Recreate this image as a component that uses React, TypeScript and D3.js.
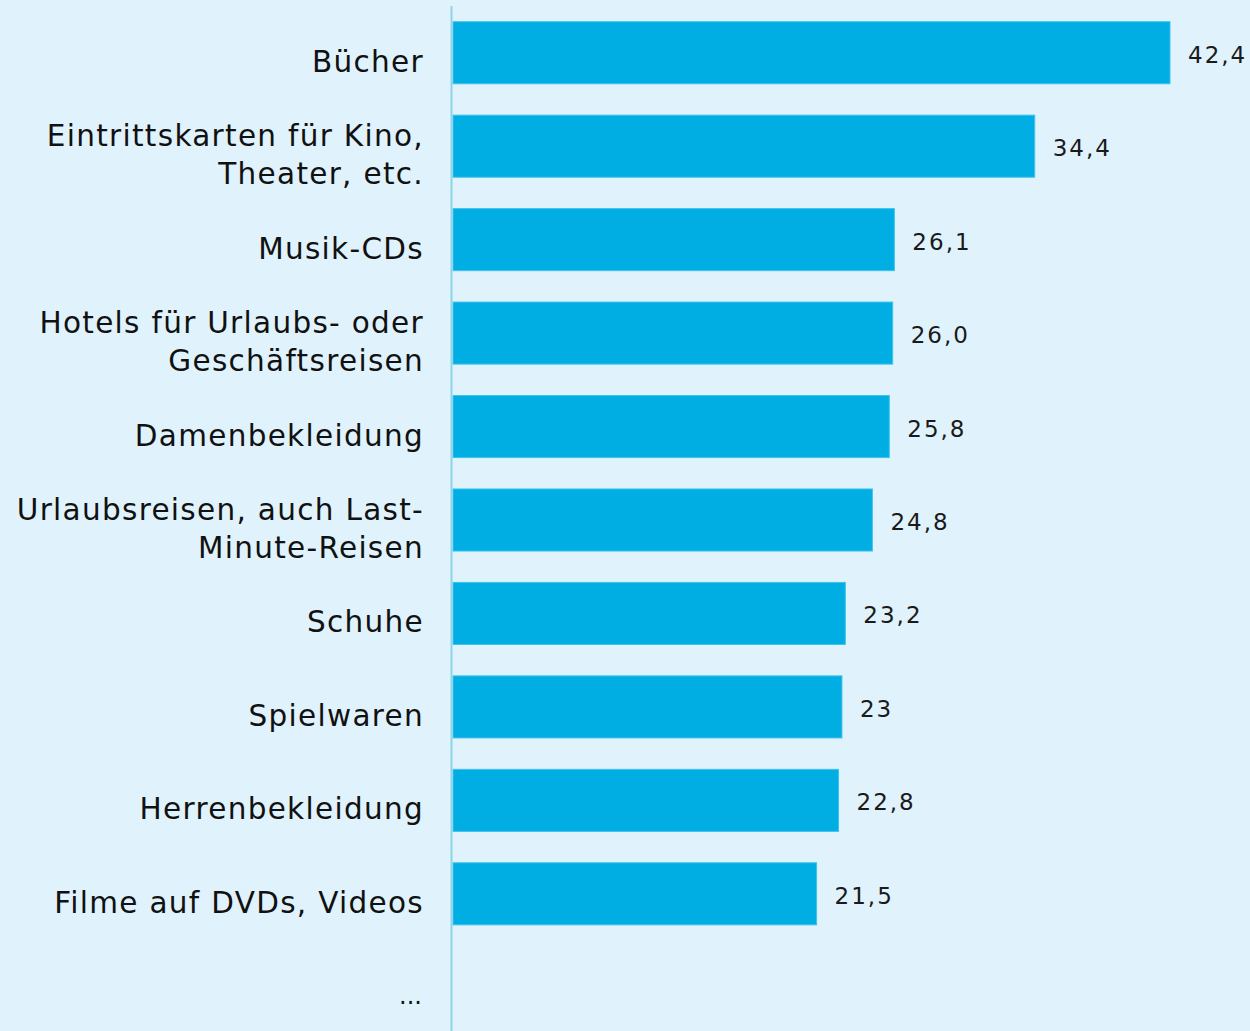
import React from "react";
import * as d3 from "d3";

// categories, label lines (for wrapping) and values
const categories = [
  "Bücher",
  "Eintrittskarten für Kino, Theater, etc.",
  "Musik-CDs",
  "Hotels für Urlaubs- oder Geschäftsreisen",
  "Damenbekleidung",
  "Urlaubsreisen, auch Last-Minute-Reisen",
  "Schuhe",
  "Spielwaren",
  "Herrenbekleidung",
  "Filme auf DVDs, Videos",
  "...",
];
const labelLines = [
  ["Bücher"],
  ["Eintrittskarten für Kino,", "Theater, etc."],
  ["Musik-CDs"],
  ["Hotels für Urlaubs- oder", "Geschäftsreisen"],
  ["Damenbekleidung"],
  ["Urlaubsreisen, auch Last-", "Minute-Reisen"],
  ["Schuhe"],
  ["Spielwaren"],
  ["Herrenbekleidung"],
  ["Filme auf DVDs, Videos"],
  ["..."],
];
const values: (number | null)[] = [42.4, 34.4, 26.1, 26.0, 25.8, 24.8, 23.2, 23, 22.8, 21.5, null];
const valueLabels = ["42,4", "34,4", "26,1", "26,0", "25,8", "24,8", "23,2", "23", "22,8", "21,5", ""];

const W = 1250;
const H = 1031;
const font = "'DejaVu Sans', Verdana, sans-serif";

export default function App() {
  const x0 = 453;
  const xScale = d3.scaleLinear().domain([0, 42.4]).range([x0, 1170]);
  const yScale = d3
    .scaleBand<string>()
    .domain(categories)
    .range([6, 1034])
    .paddingInner(0.336)
    .paddingOuter(0.168);

  return (
    <svg
      width={W}
      height={H}
      style={{ position: "absolute", left: 0, top: 0, background: "#e0f3fd" }}
    >
      <rect x={0} y={0} width={W} height={H} fill="#e0f3fd" />
      {categories.map((c, i) => {
        const v = values[i];
        const y = yScale(c)!;
        const bh = yScale.bandwidth();
        const cy = y + bh / 2;
        const lines = labelLines[i];
        const lh = 38;
        const isDots = c === "...";
        const firstBase = cy + 19 - ((lines.length - 1) * lh) / 2 + (isDots ? -2 : 0);
        return (
          <g key={c}>
            {v !== null && (
              <rect
                x={x0}
                y={y}
                width={xScale(v) - x0}
                height={bh}
                fill="#00aee3"
                stroke="#3ec2ec"
                strokeWidth={1}
              />
            )}
            {v !== null && (
              <text
                x={xScale(v) + 18}
                y={cy + 10}
                fontFamily={font}
                fontSize={23}
                letterSpacing={2}
                fill="#1a1a1a"
              >
                {valueLabels[i]}
              </text>
            )}
            <text
              x={424}
              textAnchor="end"
              fontFamily={font}
              fontSize={isDots ? 24 : 29.5}
              letterSpacing={isDots ? 0 : 1.3}
              fill="#111"
            >
              {lines.map((l, j) => (
                <tspan key={j} x={isDots ? 422 : 424} y={firstBase + j * lh}>
                  {l}
                </tspan>
              ))}
            </text>
          </g>
        );
      })}
      <line x1={451.5} x2={451.5} y1={6} y2={H} stroke="#8dd3ea" strokeWidth={2} />
    </svg>
  );
}
